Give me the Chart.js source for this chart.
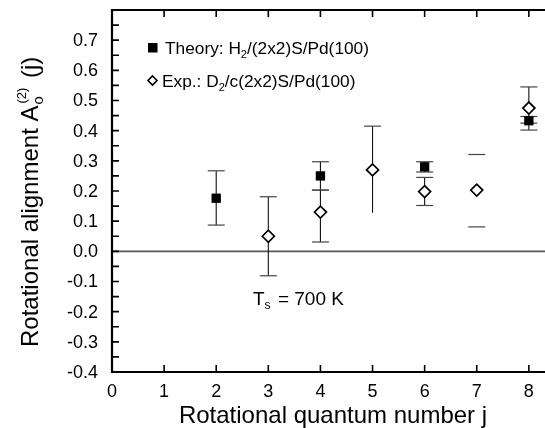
<!DOCTYPE html>
<html><head><meta charset="utf-8">
<script src="https://cdn.jsdelivr.net/npm/chart.js@4/dist/chart.umd.min.js"></script>
<style>html,body{margin:0;padding:0;background:#fff}#wrap{width:545px;height:428px;position:relative}</style>
</head><body><div id="wrap"><canvas id="c" width="545" height="428"></canvas></div>
<script>
const xTickValues = [0,1,2,3,4,5,6,7,8];
const xTickLabels = ['0','1','2','3','4','5','6','7','8'];
const yTickValues = [-0.4,-0.3,-0.2,-0.1,0.0,0.1,0.2,0.3,0.4,0.5,0.6,0.7];
const yTickLabels = ['-0.4','-0.3','-0.2','-0.1','0.0','0.1','0.2','0.3','0.4','0.5','0.6','0.7'];
const yMinorValues = [-0.35,-0.25,-0.15,-0.05,0.05,0.15,0.25,0.35,0.45,0.55,0.65,0.75];

const theoryJ  = [2, 4, 6, 8];
const theoryA  = [0.176, 0.25, 0.28, 0.433];
const theoryLo = [0.087, 0.203, 0.263, 0.425];
const theoryHi = [0.267, 0.297, 0.297, 0.447];

const expJ     = [3, 4, 5, 6, 7, 8];
const expA     = [0.05, 0.13, 0.27, 0.198, 0.203, 0.475];
const expLo    = [-0.081, 0.031, 0.128, 0.152, 0.081, 0.402];
const expHi    = [0.181, 0.203, 0.415, 0.245, 0.321, 0.545];
const expLoCap = [true, true, false, true, true, true];
const expStem  = [true, true, true, true, false, true];

const FONT = '"Liberation Sans", Arial, Helvetica, sans-serif';
function f(sz){ return sz + 'px ' + FONT; }

const plugin = {
  id: 'custom',
  beforeDatasetsDraw(chart) {
    const ctx = chart.ctx, xs = chart.scales.x, ys = chart.scales.y, ca = chart.chartArea;
    ctx.save();
    ctx.strokeStyle = '#555'; ctx.lineWidth = 1.6;
    const y0 = ys.getPixelForValue(0);
    ctx.beginPath(); ctx.moveTo(ca.left, y0); ctx.lineTo(ca.right, y0); ctx.stroke();
    function bar(j, lo, hi, loCap, hiCap, stem) {
      const x = xs.getPixelForValue(j), yl = ys.getPixelForValue(lo), yh = ys.getPixelForValue(hi);
      if (stem) { ctx.strokeStyle = '#111'; ctx.lineWidth = 1.1; ctx.beginPath(); ctx.moveTo(x, yl); ctx.lineTo(x, yh); ctx.stroke(); }
      ctx.strokeStyle = '#444'; ctx.lineWidth = 1.2;
      if (loCap) { ctx.beginPath(); ctx.moveTo(x - 8.5, yl); ctx.lineTo(x + 8.5, yl); ctx.stroke(); }
      if (hiCap) { ctx.beginPath(); ctx.moveTo(x - 8.5, yh); ctx.lineTo(x + 8.5, yh); ctx.stroke(); }
    }
    theoryJ.forEach((j, i) => bar(j, theoryLo[i], theoryHi[i], true, true, true));
    expJ.forEach((j, i) => bar(j, expLo[i], expHi[i], expLoCap[i], true, expStem[i]));
    ctx.restore();
  },
  afterDraw(chart) {
    const ctx = chart.ctx, xs = chart.scales.x, ys = chart.scales.y, ca = chart.chartArea;
    ctx.save();
    ctx.strokeStyle = '#000'; ctx.lineWidth = 2.2;
    ctx.beginPath();
    ctx.moveTo(ca.right, ca.top); ctx.lineTo(ca.left, ca.top); ctx.lineTo(ca.left, ca.bottom); ctx.lineTo(ca.right, ca.bottom);
    ctx.stroke();
    ctx.lineWidth = 1.6;
    const TL = 7;
    ctx.beginPath();
    xTickValues.forEach(v => {
      if (v === 0) return;
      const x = xs.getPixelForValue(v);
      ctx.moveTo(x, ca.bottom); ctx.lineTo(x, ca.bottom - TL);
      ctx.moveTo(x, ca.top); ctx.lineTo(x, ca.top + TL);
    });
    yTickValues.concat(yMinorValues).forEach(v => {
      const y = ys.getPixelForValue(v);
      ctx.moveTo(ca.left, y); ctx.lineTo(ca.left + TL, y);
    });
    ctx.stroke();
    ctx.fillStyle = '#000';
    ctx.font = f(18);
    ctx.textAlign = 'center'; ctx.textBaseline = 'alphabetic';
    xTickValues.forEach((v, i) => ctx.fillText(xTickLabels[i], xs.getPixelForValue(v), 397));
    ctx.textAlign = 'right'; ctx.textBaseline = 'middle';
    yTickValues.forEach((v, i) => ctx.fillText(yTickLabels[i], 98, ys.getPixelForValue(v) + 1));
    ctx.textBaseline = 'alphabetic'; ctx.textAlign = 'center';
    ctx.font = f(24);
    ctx.fillText('Rotational quantum number j', 333, 423);
    ctx.save();
    ctx.translate(38, 347); ctx.rotate(-Math.PI / 2);
    ctx.textAlign = 'left';
    ctx.font = f(24);
    const t1 = 'Rotational alignment A';
    ctx.fillText(t1, 0, 0);
    let w = ctx.measureText(t1).width + 1;
    ctx.font = f(15); ctx.fillText('o', w, 5);
    const wo = ctx.measureText('o').width;
    ctx.font = f(13); ctx.fillText('(2)', w + 1, -12);
    const w2 = ctx.measureText('(2)').width;
    w += Math.max(wo, w2 + 1);
    ctx.font = f(24); ctx.fillText(' (j)', w + 3, 0);
    ctx.restore();
    ctx.textAlign = 'left'; ctx.textBaseline = 'alphabetic';
    ctx.fillStyle = '#000';
    ctx.fillRect(148, 43, 9.5, 9.5);
    function rich(x, y, segs) {
      let cx = x;
      segs.forEach(s => { ctx.font = f(s[1]); ctx.fillText(s[0], cx, y + s[2]); cx += ctx.measureText(s[0]).width + (s[3] || 0); });
    }
    rich(165, 53.5, [['Theory: H', 17.3, 0], ['2', 11, 4], ['/(2x2)S/Pd(100)', 17.3, 0]]);
    ctx.strokeStyle = '#000'; ctx.lineWidth = 1.6;
    ctx.beginPath(); ctx.moveTo(152.5, 76); ctx.lineTo(157, 80.5); ctx.lineTo(152.5, 85); ctx.lineTo(148, 80.5); ctx.closePath(); ctx.stroke();
    rich(162, 86.5, [['Exp.: D', 17.3, 0], ['2', 11, 4], ['/c(2x2)S/Pd(100)', 17.3, 0]]);
    rich(253, 304.5, [['T', 19, 0], ['s', 12, 4.5, 2], [' = 700 K', 19, 0]]);
    ctx.restore();
  }
};

new Chart(document.getElementById('c'), {
  type: 'scatter',
  data: {
    datasets: [
      {
        label: 'Theory: H2/(2x2)S/Pd(100)',
        data: theoryJ.map((j, i) => ({ x: j, y: theoryA[i] })),
        pointStyle: 'rect', pointRadius: 6.6, pointHoverRadius: 6.6,
        backgroundColor: '#000', borderColor: '#000', borderWidth: 0
      },
      {
        label: 'Exp.: D2/c(2x2)S/Pd(100)',
        data: expJ.map((j, i) => ({ x: j, y: expA[i] })),
        pointStyle: 'rectRot', pointRadius: 6, pointHoverRadius: 6,
        backgroundColor: '#fff', borderColor: '#000', borderWidth: 1.7
      }
    ]
  },
  options: {
    responsive: false, animation: false, devicePixelRatio: 1,
    layout: { autoPadding: false, padding: { top: 10, right: 0, left: 0, bottom: 0 } },
    plugins: { legend: { display: false }, tooltip: { enabled: false } },
    scales: {
      x: {
        type: 'linear', min: 0, max: 8.31,
        afterBuildTicks: s => { s.ticks = xTickValues.map(v => ({ value: v })); },
        afterFit: s => { s.height = 56; },
        ticks: { display: false }, grid: { display: false }, border: { display: false }
      },
      y: {
        type: 'linear', min: -0.4, max: 0.8,
        afterBuildTicks: s => { s.ticks = yTickValues.map(v => ({ value: v })); },
        afterFit: s => { s.width = 112; },
        ticks: { display: false }, grid: { display: false }, border: { display: false }
      }
    }
  },
  plugins: [plugin]
});
</script>
</body></html>
